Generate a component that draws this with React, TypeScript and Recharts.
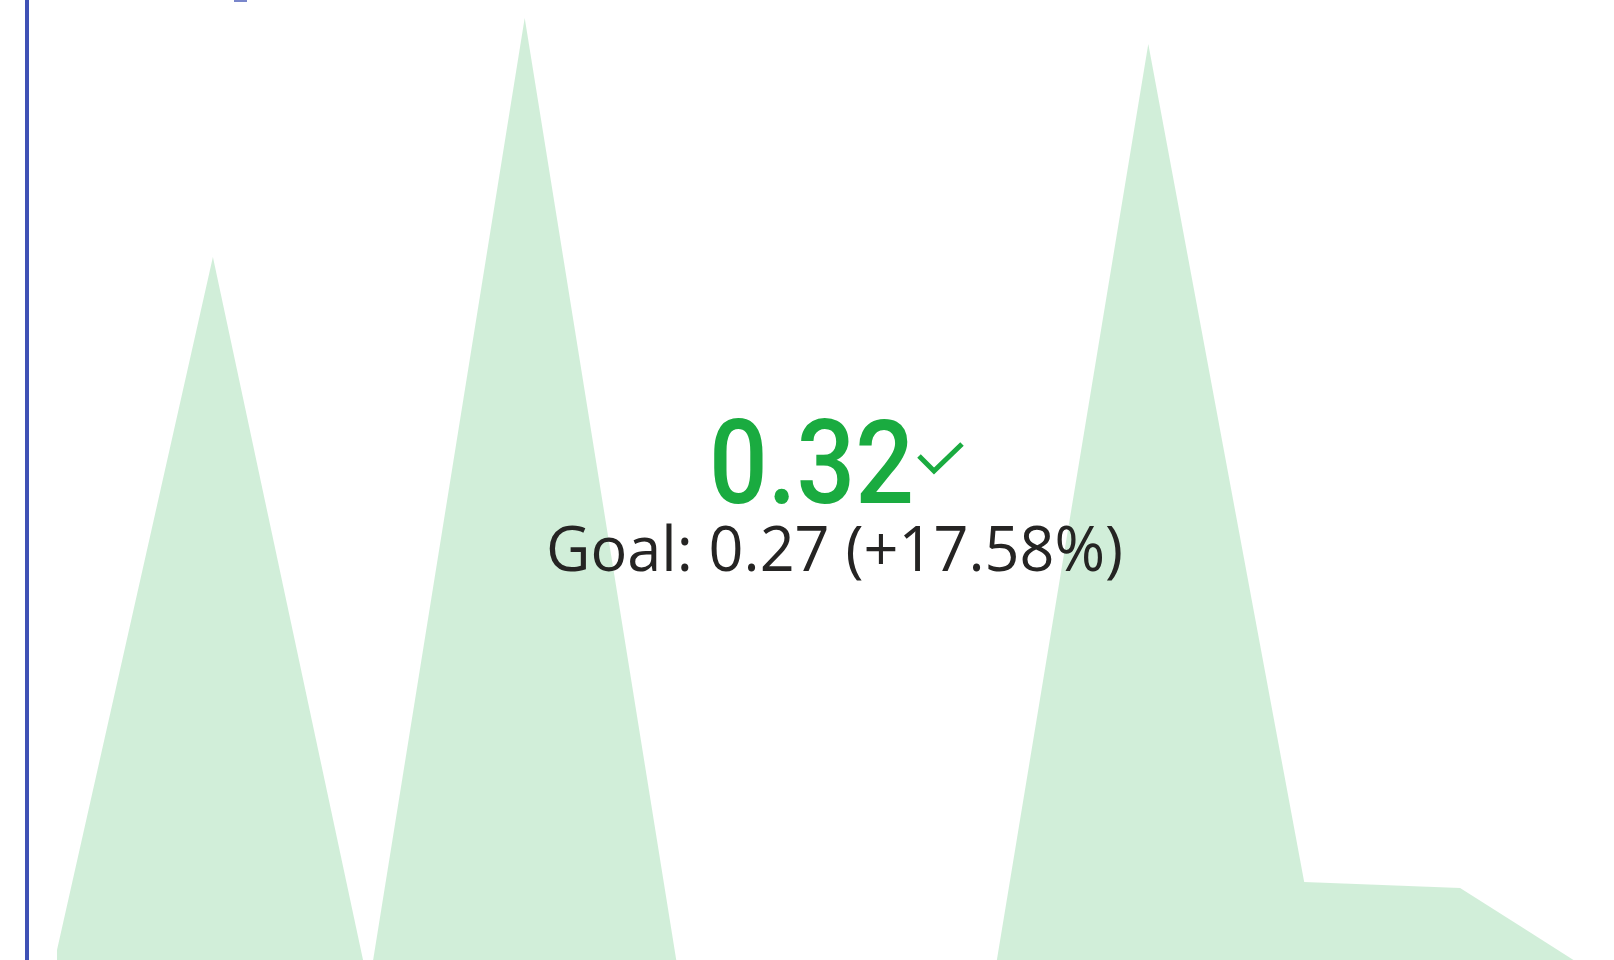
import { AreaChart, Area, XAxis, YAxis } from "recharts";

const periods = ["Jan", "Feb", "Mar", "Apr", "May", "Jun", "Jul", "Aug", "Sep", "Oct", "Nov"];
const trend = [0.037, 0.73, 0, 0.969, 0, 0, 0, 0.943, 0.105, 0.099, 0];

const kpiValue = "0.32";
const goalLabel = "Goal: 0.27 (+17.58%)";

const GOOD = "#1AAB40";

export default function App() {
  const data = periods.map((p, i) => ({ name: p, value: trend[i] }));

  return (
    <div
      style={{
        position: "absolute",
        left: 0,
        top: 0,
        width: 1614,
        height: 960,
        overflow: "hidden",
        background: "#ffffff",
      }}
    >
      {/* sparkline behind the KPI */}
      <div style={{ position: "absolute", left: 0, top: -13 }}>
        <AreaChart
          width={1620}
          height={1000}
          data={data}
          margin={{ top: 0, right: 4, bottom: 0, left: 57 }}
        >
          <XAxis dataKey="name" hide />
          <YAxis hide domain={[0, 1]} />
          <Area
            type="linear"
            dataKey="value"
            stroke="none"
            fill={GOOD}
            fillOpacity={0.2}
            isAnimationActive={false}
            dot={false}
            activeDot={false}
          />
        </AreaChart>
      </div>

      {/* left accent bar */}
      <div
        style={{
          position: "absolute",
          left: 25,
          top: 0,
          width: 4,
          height: 960,
          background: "#3F51B5",
        }}
      />
      <div
        style={{
          position: "absolute",
          left: 234,
          top: 0,
          width: 13,
          height: 2,
          background: "#7986CB",
        }}
      />

      <svg
        width={1614}
        height={960}
        style={{ position: "absolute", left: 0, top: 0 }}
      >
        <text
          x={709}
          y={503}
          fontFamily="Roboto, sans-serif"
          fontWeight={500}
          fontSize={116}
          fill={GOOD}
          textLength={205}
          lengthAdjust="spacingAndGlyphs"
        >
          {kpiValue}
        </text>
        <polyline
          points="919,456 934,471 962,444"
          fill="none"
          stroke={GOOD}
          strokeWidth={5}
        />
        <text
          x={546}
          y={571}
          fontFamily="'Open Sans', sans-serif"
          fontSize={62}
          fill="#252423"
          textLength={577}
          lengthAdjust="spacingAndGlyphs"
        >
          {goalLabel}
        </text>
      </svg>
    </div>
  );
}
